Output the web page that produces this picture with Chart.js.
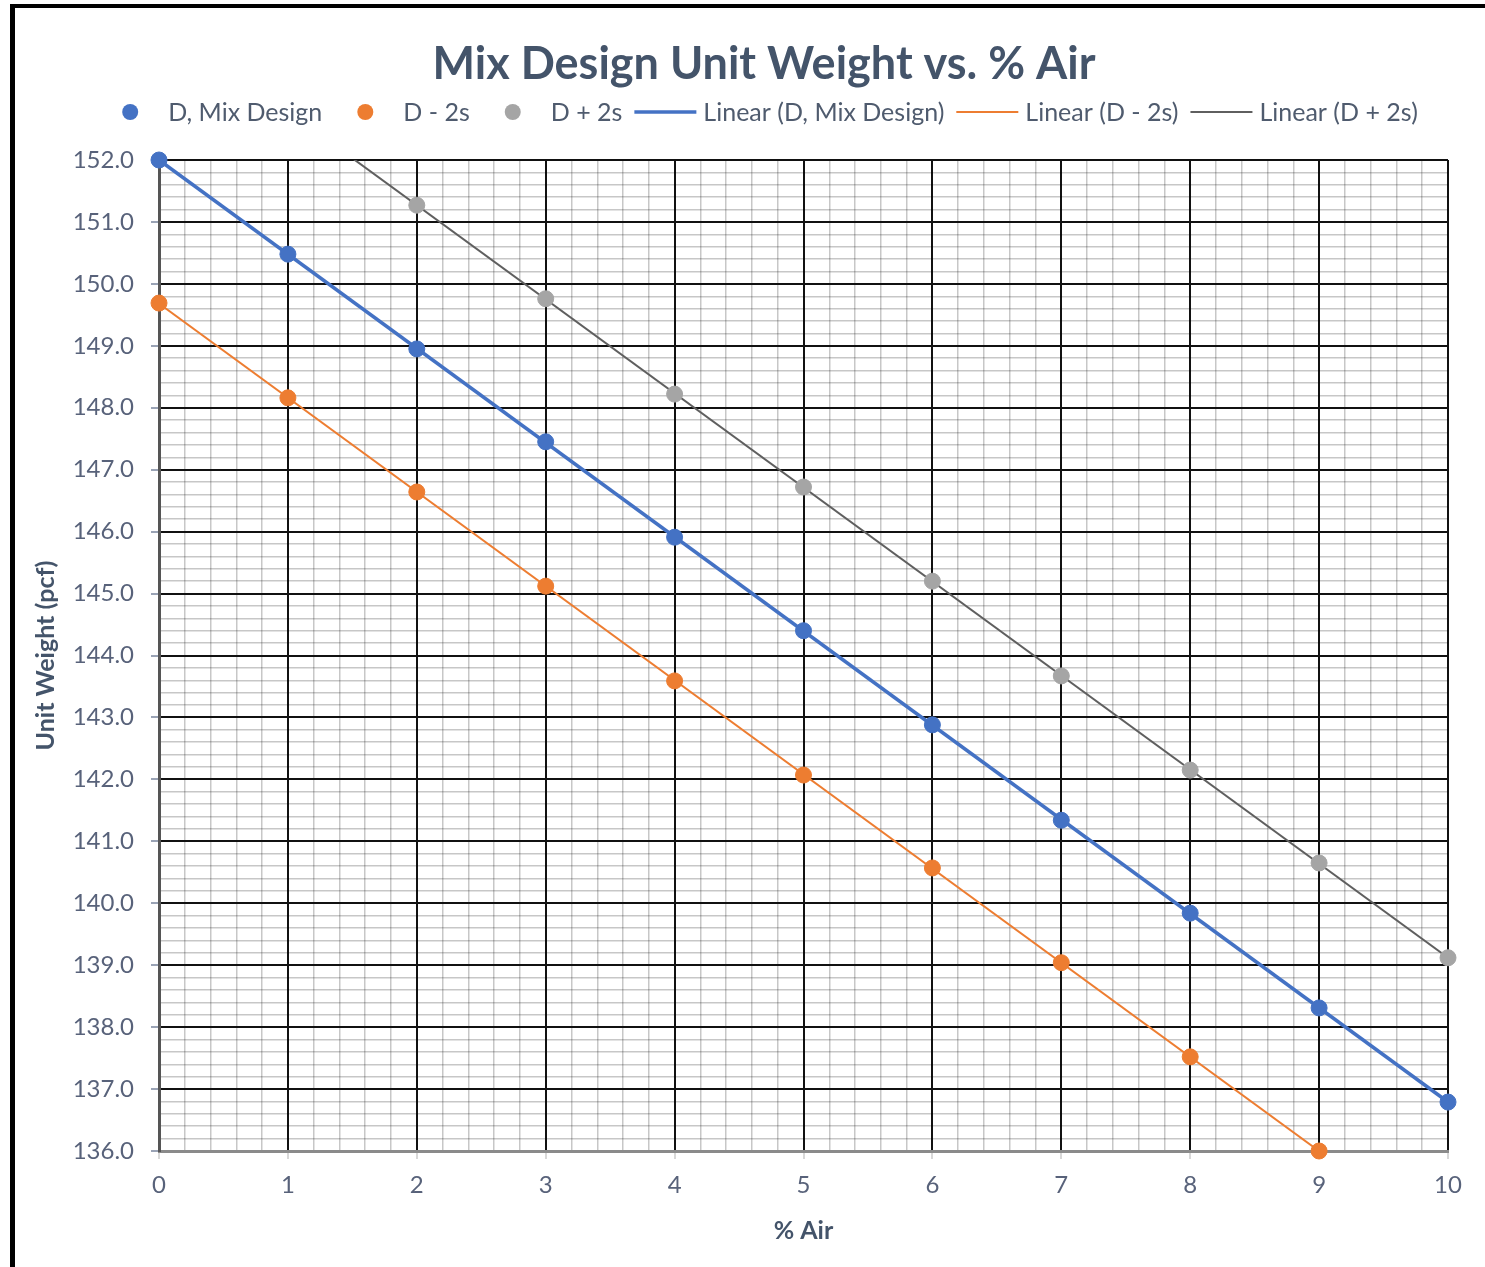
<!DOCTYPE html>
<html>
<head>
<meta charset="utf-8">
<script src="https://cdn.jsdelivr.net/npm/chart.js@4.4.1/dist/chart.umd.min.js"></script>
<style>
    html, body { margin: 0; padding: 0; background: #fff; }
    #wrap { position: relative; width: 1485px; height: 1267px; }
</style>
</head>
<body>
<div id="wrap"><canvas id="mixChart" width="1485" height="1267"></canvas></div>
<script>
// % air values for each series
const airMix = [0, 1, 2, 3, 4, 5, 6, 7, 8, 9, 10];
const airLow = [0, 1, 2, 3, 4, 5, 6, 7, 8, 9];
const airHigh = [2, 3, 4, 5, 6, 7, 8, 9, 10];

// unit weight (pcf)
const mixDesign = [152.0, 150.48, 148.95, 147.45, 145.91, 144.4, 142.88, 141.34, 139.84, 138.31, 136.79];
const minusTwoS = [149.69, 148.16, 146.64, 145.12, 143.59, 142.07, 140.57, 139.04, 137.52, 136.0];
const plusTwoS = [151.27, 149.76, 148.22, 146.72, 145.2, 143.67, 142.15, 140.65, 139.12];

const xRange = [0, 10];
const yRange = [136, 152];

const BLUE = '#4472C4';
const ORANGE = '#ED7D31';
const GRAY = '#A5A5A5';
const GRAY_TREND = '#5f5f5f';
const TEXT = '#44546A';
const TICK_TEXT = '#58627a';
// minor grid is translucent so it vanishes where it crosses a black major line
const MINOR = 'rgba(0,0,0,0.22)';

const toPoints = (xs, ys) => xs.map((x, i) => ({ x: x, y: ys[i] }));

// least squares trendline, evaluated across the axis range
function trend(xs, ys) {
    const n = xs.length;
    const mx = xs.reduce((a, b) => a + b, 0) / n;
    const my = ys.reduce((a, b) => a + b, 0) / n;
    let sxy = 0, sxx = 0;
    xs.forEach((x, i) => { sxy += (x - mx) * (ys[i] - my); sxx += (x - mx) * (x - mx); });
    const slope = sxy / sxx;
    const icpt = my - slope * mx;
    return xRange.map(x => ({ x: x, y: icpt + slope * x }));
}

const isMajor = v => Math.abs(v - Math.round(v)) < 1e-6;

const legendItems = [
    { label: 'D, Mix Design', color: BLUE, kind: 'dot' },
    { label: 'D - 2s', color: ORANGE, kind: 'dot' },
    { label: 'D + 2s', color: GRAY, kind: 'dot' },
    { label: 'Linear (D, Mix Design)', color: BLUE, kind: 'line', width: 3.5 },
    { label: 'Linear (D - 2s)', color: ORANGE, kind: 'line', width: 2 },
    { label: 'Linear (D + 2s)', color: GRAY_TREND, kind: 'line', width: 2 },
];

const frameAndLegend = {
    id: 'frameAndLegend',
    afterDraw(chart) {
        const ctx = chart.ctx;
        ctx.save();

        // outer frame (top and left edges show in the picture)
        ctx.fillStyle = '#000';
        ctx.fillRect(10, 4, 1475, 4);
        ctx.fillRect(10, 4, 5, 1263);

        // title
        ctx.fillStyle = TEXT;
        ctx.font = 'bold 45px Lato';
        ctx.textAlign = 'center';
        ctx.textBaseline = 'middle';
        ctx.fillText('Mix Design Unit Weight vs. % Air', 764, 64);

        // legend
        ctx.font = '25px Lato';
        ctx.textAlign = 'left';
        const dotGap = 38, lineLen = 62, lineGap = 7;
        let total = 0;
        const widths = legendItems.map(it => ctx.measureText(it.label).width);
        legendItems.forEach((it, i) => {
            total += (it.kind === 'dot' ? dotGap : lineLen + lineGap) + widths[i];
            if (i < legendItems.length - 1) total += legendItems[i + 1].kind === 'dot' ? 43 : 12;
        });
        let x = 774 - total / 2;
        const y = 112;
        legendItems.forEach((it, i) => {
            if (it.kind === 'dot') {
                ctx.fillStyle = it.color;
                ctx.beginPath();
                ctx.arc(x, y, 8, 0, Math.PI * 2);
                ctx.fill();
                x += dotGap;
            } else {
                ctx.strokeStyle = it.color;
                ctx.lineWidth = it.width;
                ctx.beginPath();
                ctx.moveTo(x, y);
                ctx.lineTo(x + lineLen, y);
                ctx.stroke();
                x += lineLen + lineGap;
            }
            ctx.fillStyle = '#4f5b6e';
            ctx.fillText(it.label, x, y + 1);
            x += widths[i];
            if (i < legendItems.length - 1) x += legendItems[i + 1].kind === 'dot' ? 43 : 12;
        });
        ctx.restore();
    }
};

document.addEventListener('DOMContentLoaded', () => {
    const el = document.getElementById('mixChart');

    new Chart(el, {
        type: 'scatter',
        data: {
            datasets: [
                { label: 'D, Mix Design', data: toPoints(airMix, mixDesign), backgroundColor: BLUE, borderColor: BLUE, pointRadius: 8, pointHoverRadius: 8, clip: false },
                { label: 'D - 2s', data: toPoints(airLow, minusTwoS), backgroundColor: ORANGE, borderColor: ORANGE, pointRadius: 8, pointHoverRadius: 8, clip: false },
                { label: 'D + 2s', data: toPoints(airHigh, plusTwoS), backgroundColor: GRAY, borderColor: GRAY, pointRadius: 8, pointHoverRadius: 8, clip: false },
                { label: 'Linear (D, Mix Design)', type: 'line', data: trend(airMix, mixDesign), borderColor: BLUE, borderWidth: 3.5, pointRadius: 0, fill: false },
                { label: 'Linear (D - 2s)', type: 'line', data: trend(airLow, minusTwoS), borderColor: ORANGE, borderWidth: 2, pointRadius: 0, fill: false },
                { label: 'Linear (D + 2s)', type: 'line', data: trend(airHigh, plusTwoS), borderColor: GRAY_TREND, borderWidth: 2, pointRadius: 0, fill: false },
            ],
        },
        options: {
            responsive: false,
            animation: false,
            layout: { padding: { top: 160, left: 27, right: 37, bottom: 17 } },
            plugins: {
                legend: { display: false },
                title: { display: false },
                tooltip: { enabled: false },
            },
            scales: {
                x: {
                    type: 'linear',
                    min: xRange[0],
                    max: xRange[1],
                    afterFit: scale => { scale.height = 99; },
                    ticks: {
                        stepSize: 0.2,
                        autoSkip: false,
                        maxRotation: 0,
                        padding: 12,
                        color: TICK_TEXT,
                        font: { family: 'Lato', size: 24 },
                        callback: v => isMajor(v) ? String(Math.round(v)) : '',
                    },
                    grid: {
                        color: c => isMajor(c.tick.value) ? '#111' : MINOR,
                        lineWidth: c => isMajor(c.tick.value) ? 2 : 1.5,
                        tickColor: c => isMajor(c.tick.value) ? '#d8d8d8' : 'rgba(0,0,0,0)',
                        tickLength: 8,
                    },
                    border: { color: '#8a8a8a', width: 3 },
                    title: {
                        display: true,
                        text: '% Air',
                        color: TEXT,
                        font: { family: 'Lato', size: 25, weight: 'bold' },
                    },
                },
                y: {
                    min: yRange[0],
                    max: yRange[1],
                    afterFit: scale => { scale.width = 132; },
                    ticks: {
                        stepSize: 0.2,
                        autoSkip: false,
                        padding: 17,
                        color: TICK_TEXT,
                        font: { family: 'Lato', size: 24 },
                        callback: v => isMajor(v) ? Math.round(v).toFixed(1) : '',
                    },
                    grid: {
                        color: c => isMajor(c.tick.value) ? '#111' : MINOR,
                        lineWidth: c => isMajor(c.tick.value) ? 2 : 1.5,
                        tickColor: c => isMajor(c.tick.value) ? '#9aa3b5' : 'rgba(0,0,0,0)',
                        tickLength: 8,
                    },
                    border: { color: '#555', width: 3 },
                    title: {
                        display: true,
                        text: 'Unit Weight (pcf)',
                        color: TEXT,
                        font: { family: 'Lato', size: 25, weight: 'bold' },
                    },
                },
            },
        },
        plugins: [frameAndLegend],
    });
});
</script>
</body>
</html>
